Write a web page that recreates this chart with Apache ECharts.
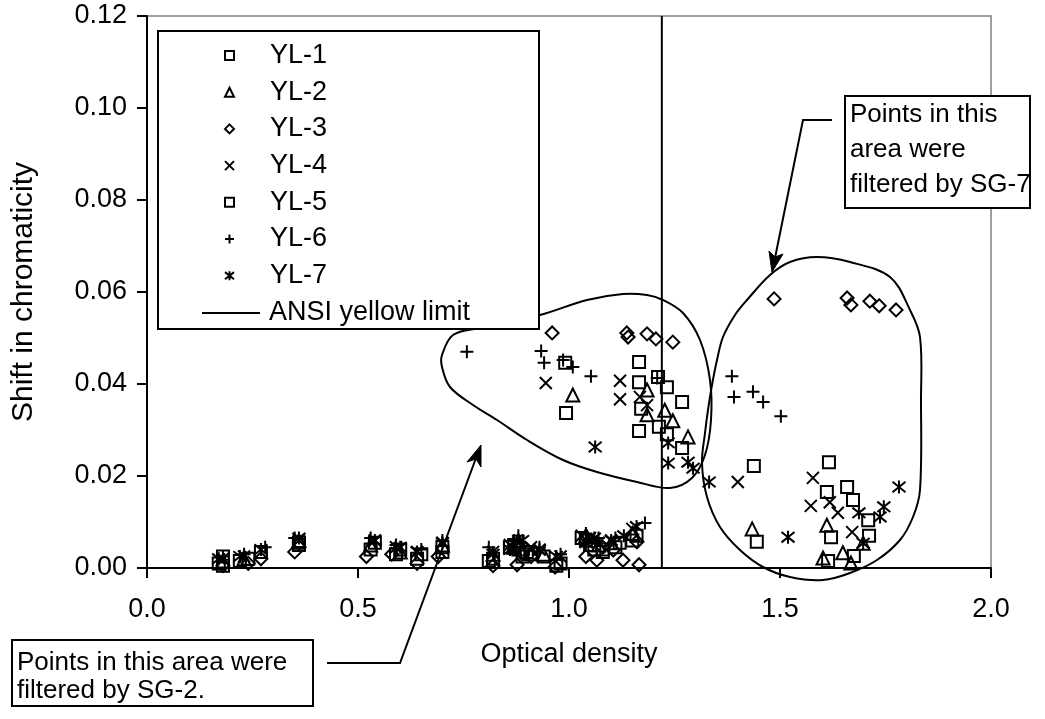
<!DOCTYPE html>
<html>
<head>
<meta charset="utf-8">
<script src="https://cdn.jsdelivr.net/npm/echarts@6/dist/echarts.min.js"></script>
<style>
html,body{margin:0;padding:0;background:#fff;}
#chart{width:1045px;height:719px;}
</style>
</head>
<body>
<div id="chart"></div>
<script>
// ---- data (optical density, shift in chromaticity) ----
const YL1 = [
  [0.17,0.0010],[0.18,0.0025],[0.22,0.0015],[0.27,0.0035],[0.36,0.0050],[0.53,0.0040],[0.59,0.0030],[0.64,0.0020],[0.70,0.0045],
  [0.82,0.0020],[0.86,0.0045],[0.88,0.0040],[0.91,0.0030],[0.94,0.0025],[0.98,0.0010],[1.03,0.0065],
  [1.05,0.0050],[1.08,0.0035],[1.11,0.0045],[1.16,0.0070],
  [1.166,0.0448],[1.211,0.0415],[1.268,0.0361],[0.993,0.0337],[1.166,0.0298],[1.232,0.0291],
  [1.438,0.0222],[1.659,0.0176],[1.673,0.0148],[1.445,0.0057],[1.711,0.0070],[1.614,0.0015]
];
const YL2 = [
  [0.18,0.0015],[0.23,0.0020],[0.36,0.0060],[0.53,0.0050],[0.60,0.0035],[0.70,0.0050],[0.82,0.0030],
  [0.87,0.0045],[0.88,0.0060],[0.94,0.0030],[1.04,0.0070],[1.07,0.0050],[1.10,0.0055],[1.15,0.0075],
  [1.009,0.0376],[1.185,0.0387],[1.185,0.0333],[1.227,0.0343],[1.246,0.0320],[1.282,0.0285],
  [1.434,0.0085],[1.611,0.0093],[1.602,0.0022],[1.649,0.0033],[1.668,0.0011],[1.697,0.0054]
];
const YL3 = [
  [0.18,0.0005],[0.24,0.0010],[0.27,0.0020],[0.35,0.0035],[0.52,0.0025],[0.58,0.0030],[0.64,0.0010],
  [0.69,0.0025],[0.82,0.0005],[0.877,0.0007],[0.89,0.0030],[0.91,0.0025],[0.967,0.0002],[1.04,0.0025],
  [1.066,0.0017],[1.08,0.0045],[1.105,0.0039],[1.128,0.0017],[1.161,0.0057],[1.166,0.0007],
  [0.960,0.0511],[1.137,0.0511],[1.140,0.0502],[1.185,0.0509],[1.206,0.0498],[1.246,0.0491],
  [1.486,0.0585],[1.659,0.0587],[1.668,0.0572],[1.713,0.0580],[1.735,0.0570],[1.775,0.0561]
];
const YL4 = [
  [0.18,0.0020],[0.23,0.0025],[0.36,0.0060],[0.54,0.0060],[0.59,0.0045],[0.64,0.0035],[0.70,0.0055],
  [0.82,0.0035],[0.86,0.0050],[0.88,0.0055],[0.91,0.0045],[0.93,0.0040],[0.98,0.0025],[1.03,0.0070],
  [1.05,0.0065],[1.07,0.0055],[1.10,0.0060],[1.15,0.0085],
  [0.945,0.0402],[1.121,0.0407],[1.121,0.0367],[1.168,0.0372],[1.185,0.0354],
  [1.400,0.0187],[1.578,0.0196],[1.573,0.0135],[1.618,0.0143],[1.637,0.0120],[1.671,0.0078]
];
const YL5 = [
  [0.18,0.0005],[0.24,0.0020],[0.36,0.0055],[0.54,0.0055],[0.60,0.0040],[0.65,0.0030],[0.70,0.0035],[0.81,0.0015],
  [0.87,0.0050],[0.89,0.0025],[0.90,0.0035],[0.97,0.0005],[1.04,0.0060],[1.06,0.0040],[1.08,0.0040],
  [1.12,0.0055],[1.15,0.0060],
  [0.991,0.0446],[1.166,0.0404],[1.232,0.0393],[1.171,0.0346],[1.213,0.0307],[1.268,0.0261],
  [1.616,0.0230],[1.611,0.0165],[1.709,0.0104],[1.621,0.0067],[1.675,0.0026]
];
const YL6 = [
  [0.18,0.0025],[0.23,0.0030],[0.28,0.0045],[0.35,0.0065],[0.53,0.0065],[0.59,0.0050],[0.65,0.0040],
  [0.70,0.0060],[0.81,0.0045],[0.87,0.0060],[0.88,0.0070],[0.93,0.0045],[0.98,0.0030],[1.04,0.0075],
  [1.07,0.0065],[1.11,0.0065],[1.18,0.0098],
  [0.758,0.0470],[0.934,0.0472],[0.941,0.0446],[0.986,0.0452],[1.009,0.0437],[1.052,0.0417],[1.209,0.0413],
  [1.386,0.0417],[1.391,0.0372],[1.436,0.0383],[1.460,0.0361],[1.502,0.0330]
];
const YL7 = [
  [0.17,0.0020],[0.22,0.0025],[0.27,0.0040],[0.36,0.0065],[0.54,0.0060],[0.60,0.0045],[0.64,0.0035],
  [0.70,0.0055],[0.82,0.0030],[0.86,0.0040],[0.89,0.0060],[0.93,0.0040],[0.97,0.0025],[1.04,0.0055],
  [1.06,0.0065],[1.10,0.0060],[1.13,0.0070],[1.16,0.0090],
  [1.062,0.0263],[1.235,0.0272],[1.235,0.0228],[1.282,0.0230],[1.294,0.0217],[1.332,0.0187],
  [1.519,0.0067],[1.687,0.0120],[1.737,0.0111],[1.746,0.0133],[1.782,0.0176],[1.697,0.0054]
];
const ANSI_LIMIT = [[1.22,0],[1.22,0.12]];
const seriesNames = ['YL-1','YL-2','YL-3','YL-4','YL-5','YL-6','YL-7','ANSI yellow limit'];
const xTicks = {min:0, max:2, interval:0.5};
const yTicks = {min:0, max:0.12, interval:0.02};
const xLabel = 'Optical density';
const yLabel = 'Shift in chromaticity';
const noteLeft = ['Points in this area were','filtered by SG-2.'];
const noteRight = ['Points in this','area were','filtered by SG-7'];

// ---- styling ----
const FONT = '"Liberation Sans", Arial, sans-serif';
const SYM = {
  rect: 'rect', triangle: 'triangle', diamond: 'diamond',
  x: 'path://M0,0L10,10M10,0L0,10',
  plus: 'path://M5,0L5,10M0,5L10,5',
  star: 'path://M0,1L10,9M10,1L0,9M5,0L5,10'
};
function sc(name, data, symbol, size){
  return {
    name, type:'scatter', data, symbol, symbolSize:size, z:3,
    itemStyle:{color:'transparent', borderColor:'#000', borderWidth:2, opacity:1},
    emphasis:{disabled:true}
  };
}
const leftBlob = [[442,355],[453,335],[480,328],[540,315],[587,300],[623,294],[647,295],[663,300],[683,313],
  [700,340],[710,380],[711,420],[705,455],[692,478],[670,488],[637,482],[597,472],[563,460],[527,440],
  [497,420],[473,405],[450,387],[442,367]];
const rightBlob = [[817,257],[850,262],[890,277],[910,310],[920,337],[921,400],[920,490],[913,517],[900,540],
  [877,560],[850,573],[823,580],[790,577],[763,567],[740,550],[720,527],[707,497],[702,463],[705,433],
  [708,410],[712,385],[717,360],[723,337],[735,315],[747,300],[770,275],[790,262]];

const chart = echarts.init(document.getElementById('chart'), null, {renderer:'canvas'});
const axisCommon = {
  axisLine:{show:true, onZero:false, lineStyle:{color:'#000', width:2}},
  axisTick:{show:true, inside:false, length:10, lineStyle:{color:'#000', width:2}},
  splitLine:{show:false},
  nameLocation:'middle'
};
const legendText = {fontFamily:FONT, fontSize:27, color:'#000', lineHeight:27};
chart.setOption({
  animation:false,
  backgroundColor:'#fff',
  textStyle:{fontFamily:FONT},
  grid:{left:147, right:54, top:16, bottom:151, show:true, borderColor:'#808080', borderWidth:1.5, backgroundColor:'transparent'},
  xAxis:Object.assign({type:'value', min:xTicks.min, max:xTicks.max, interval:xTicks.interval, name:xLabel, nameGap:73,
    nameTextStyle:{fontFamily:FONT, fontSize:27, color:'#000'},
    axisLabel:{fontFamily:FONT, fontSize:27, color:'#000', margin:28, formatter:v=>v.toFixed(1)}}, axisCommon),
  yAxis:Object.assign({type:'value', min:yTicks.min, max:yTicks.max, interval:yTicks.interval, name:yLabel, nameGap:108,
    nameTextStyle:{fontFamily:FONT, fontSize:30, color:'#000'},
    axisLabel:{fontFamily:FONT, fontSize:27, color:'#000', margin:20, formatter:v=>v.toFixed(2)}}, axisCommon),
  legend:[
    {
      orient:'vertical', left:158, top:31, padding:[11,10,2,66],
      itemWidth:9, itemHeight:9, itemGap:9.7, z:20, selectedMode:false,
      data:seriesNames.slice(0,7),
      textStyle:Object.assign({padding:[0,0,0,31]}, legendText)
    },
    {
      orient:'vertical', left:158, top:299.5, padding:[0,0,0,44],
      itemWidth:58, itemHeight:2, z:20, selectedMode:false,
      data:[{name:seriesNames[7], icon:'rect'}],
      textStyle:Object.assign({padding:[0,0,0,4]}, legendText)
    }
  ],
  series:[
    sc(seriesNames[0], YL1, SYM.rect, 12),
    sc(seriesNames[1], YL2, SYM.triangle, 13),
    sc(seriesNames[2], YL3, SYM.diamond, 13),
    sc(seriesNames[3], YL4, SYM.x, 12),
    sc(seriesNames[4], YL5, SYM.rect, 12),
    sc(seriesNames[5], YL6, SYM.plus, 13),
    sc(seriesNames[6], YL7, SYM.star, 13),
    {name:seriesNames[7], type:'line', data:ANSI_LIMIT, symbol:'none', z:3,
     lineStyle:{color:'#000', width:2}, itemStyle:{color:'#000'}, emphasis:{disabled:true}}
  ],
  graphic:[
    {type:'polygon', z:4, shape:{points:leftBlob, smooth:0.35}, style:{fill:'none', stroke:'#000', lineWidth:2}, silent:true},
    {type:'polygon', z:4, shape:{points:rightBlob, smooth:0.35}, style:{fill:'none', stroke:'#000', lineWidth:2}, silent:true},
    // legend frame
    {type:'rect', z:10, shape:{x:158, y:31, width:381, height:298}, style:{fill:'#fff', stroke:'#000', lineWidth:2}, silent:true},
    // SG-2 arrow
    {type:'polyline', z:5, shape:{points:[[327,663],[400,663],[476,458]]}, style:{fill:'none', stroke:'#000', lineWidth:2}, silent:true},
    {type:'polygon', z:5, shape:{points:[[481,445],[481,467],[476,459],[467,462]]}, style:{fill:'#000', stroke:'#000', lineWidth:1}, silent:true},
    {type:'rect', z:10, shape:{x:12, y:640, width:301, height:66}, style:{fill:'#fff', stroke:'#000', lineWidth:2}, silent:true},
    {type:'text', z:11, style:{text:noteLeft[0], x:17, y:650, font:'26px '+FONT, fill:'#000'}, silent:true},
    {type:'text', z:11, style:{text:noteLeft[1], x:17, y:678, font:'26px '+FONT, fill:'#000'}, silent:true},
    // SG-7 arrow
    {type:'polyline', z:5, shape:{points:[[832,120],[803,120],[775,258]]}, style:{fill:'none', stroke:'#000', lineWidth:2}, silent:true},
    {type:'polygon', z:5, shape:{points:[[772,272],[769,251],[775,257],[783,254]]}, style:{fill:'#000', stroke:'#000', lineWidth:1}, silent:true},
    {type:'rect', z:10, shape:{x:845, y:96, width:185, height:112}, style:{fill:'#fff', stroke:'#000', lineWidth:2}, silent:true},
    {type:'text', z:11, style:{text:noteRight[0], x:850, y:102, font:'26px '+FONT, fill:'#000'}, silent:true},
    {type:'text', z:11, style:{text:noteRight[1], x:850, y:137, font:'26px '+FONT, fill:'#000'}, silent:true},
    {type:'text', z:11, style:{text:noteRight[2], x:850, y:172, font:'26px '+FONT, fill:'#000'}, silent:true}
  ]
});
</script>
</body>
</html>
